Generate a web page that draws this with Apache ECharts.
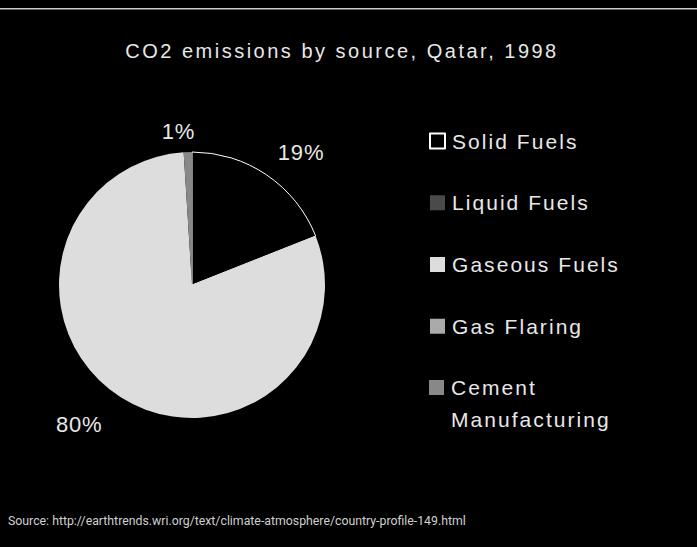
<!DOCTYPE html>
<html>
<head>
<meta charset="utf-8">
<script src="https://cdn.jsdelivr.net/npm/echarts@6/dist/echarts.min.js"></script>
<style>html,body{margin:0;padding:0;background:#000;}#c{width:697px;height:547px;}</style>
</head>
<body>
<div id="c"></div>
<script>
const categories = ['Solid Fuels', 'Liquid Fuels', 'Gaseous Fuels', 'Gas Flaring', 'Cement Manufacturing'];
const values = [19, 0, 80, 0, 1];
const colors = ['#000000', '#4a4a4a', '#dddddd', '#aaaaaa', '#888888'];
const titleText = 'CO2 emissions by source, Qatar, 1998';
const sourceText = 'Source: http://earthtrends.wri.org/text/climate-atmosphere/country-profile-149.html';

const TXT = '#e8e8e8';
const chart = echarts.init(document.getElementById('c'), null, { renderer: 'svg' });
const data = categories.map((name, i) => {
  const item = {
    name: name,
    value: values[i],
    itemStyle: { color: colors[i], borderColor: i === 0 ? '#ffffff' : colors[i], borderWidth: i === 0 ? 1 : 0 }
  };
  if (values[i] === 0) item.label = { show: false };
  return item;
});
// small label nudges (style only), by data index
const labelNudge = { 0: [-8, -2], 2: [0, 6], 4: [13, 4] };
const legendCommon = {
  orient: 'vertical',
  left: 429,
  padding: 0,
  icon: 'rect',
  itemWidth: 15, itemHeight: 15, itemGap: 29.75,
  selectedMode: false
};
chart.setOption({
  backgroundColor: '#000000',
  animation: false,
  title: {
    text: titleText,
    left: 337, top: 36, textAlign: 'center',
    textStyle: { color: TXT, fontFamily: 'Liberation Sans', fontSize: 20, fontWeight: 'normal' }
  },
  graphic: [
    { type: 'rect', shape: { x: 0, y: 8, width: 697, height: 1.5 }, style: { fill: '#cccccc' } },
    { type: 'text', left: 8, top: 515, style: { text: sourceText, fill: '#d0d0d0', font: '12.3px Roboto' } }
  ],
  legend: [
    Object.assign({}, legendCommon, {
      top: 125,
      data: categories.slice(0, 4),
      textStyle: { color: TXT, fontFamily: 'Liberation Sans', fontSize: 21, lineHeight: 32, padding: [0, 0, 0, 2] }
    }),
    Object.assign({}, legendCommon, {
      top: 377,
      data: categories.slice(4),
      formatter: function () { return '{a|Cement}\n{a|Manufacturing}'; },
      textStyle: {
        color: TXT, fontFamily: 'Liberation Sans', fontSize: 21, padding: [32, 0, 0, 2],
        rich: { a: { color: TXT, fontFamily: 'Liberation Sans', fontSize: 21, lineHeight: 32 } }
      }
    })
  ],
  series: [{
    type: 'pie',
    center: [192, 285],
    radius: 133,
    startAngle: 90,
    clockwise: true,
    avoidLabelOverlap: false,
    label: {
      show: true, position: 'outside',
      formatter: function (p) { return Math.round(p.percent) + '%'; },
      color: TXT, fontFamily: 'Liberation Sans', fontSize: 22
    },
    labelLine: { show: false, length: 25, length2: 0 },
    labelLayout: function (p) {
      const n = labelNudge[p.dataIndex];
      return n ? { dx: n[0], dy: n[1] } : {};
    },
    emphasis: { disabled: true },
    data: data
  }]
});

function applySpacing() {
  const legendWords = new Set(categories.concat(['Cement', 'Manufacturing']));
  document.querySelectorAll('#c text').forEach(function (t) {
    const s = t.textContent;
    if (s === titleText) t.setAttribute('letter-spacing', '2.5');
    else if (legendWords.has(s)) t.setAttribute('letter-spacing', '2.05');
    else if (/%$/.test(s)) t.setAttribute('letter-spacing', '0.8');
  });
}
chart.on('finished', applySpacing);
applySpacing();
setTimeout(applySpacing, 50);
</script>
</body>
</html>
